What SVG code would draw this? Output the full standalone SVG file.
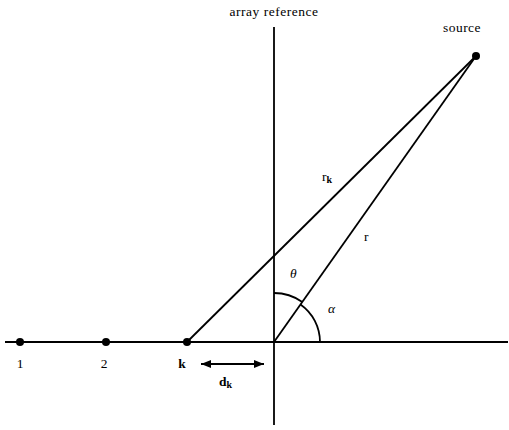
<svg xmlns="http://www.w3.org/2000/svg" width="509" height="430" viewBox="0 0 509 430">
<defs>
<style>
.ln{stroke:#000;stroke-width:1.8;fill:none}
.t{font-family:"Liberation Serif","Times New Roman",serif;font-size:13.5px;fill:#000}
.b{font-weight:bold}
</style>
<marker id="ah" viewBox="0 0 10 8" refX="10" refY="4" markerWidth="11" markerHeight="8" markerUnits="userSpaceOnUse" orient="auto-start-reverse">
<path d="M0,0 L10,4 L0,8 Z" fill="#000"/>
</marker>
</defs>
<rect width="509" height="430" fill="#fff"/>
<g id="connectors">
<line class="ln" x1="274" y1="27" x2="274" y2="425"/>
<line class="ln" x1="5" y1="342" x2="508" y2="342"/>
<line class="ln" x1="187" y1="342" x2="476" y2="56"/>
<line class="ln" x1="274" y1="342" x2="476" y2="56"/>
<path class="ln" d="M274,293 A49,49 0 0 1 302.3,302"/>
<path class="ln" d="M300.5,304.4 A46,46 0 0 1 320,342"/>
<line class="ln" x1="201" y1="364" x2="264" y2="364" marker-start="url(#ah)" marker-end="url(#ah)"/>
</g>
<g id="array-reference"><text class="t" x="274" y="16" text-anchor="middle" letter-spacing="0.5">array reference</text></g>
<g id="source"><circle cx="476" cy="56" r="4" fill="#000"/><text class="t" x="462" y="32" text-anchor="middle" letter-spacing="0.5">source</text></g>
<g id="node-1"><circle cx="20" cy="342" r="4" fill="#000"/><text class="t" x="20" y="368" text-anchor="middle">1</text></g>
<g id="node-2"><circle cx="106" cy="342" r="4" fill="#000"/><text class="t" x="104" y="368" text-anchor="middle">2</text></g>
<g id="node-k"><circle cx="187" cy="342" r="4" fill="#000"/><text class="t b" x="182" y="368" text-anchor="middle">k</text></g>
<g id="labels">
<text class="t" x="322" y="181">r<tspan class="b" font-size="10" dy="2">k</tspan></text>
<text class="t" x="364" y="241">r</text>
<text class="t" x="290" y="278" font-style="italic">θ</text>
<text class="t" x="328" y="313" font-style="italic">α</text>
<text class="t b" x="219" y="386">d<tspan font-size="10" dy="2">k</tspan></text>
</g>
</svg>
